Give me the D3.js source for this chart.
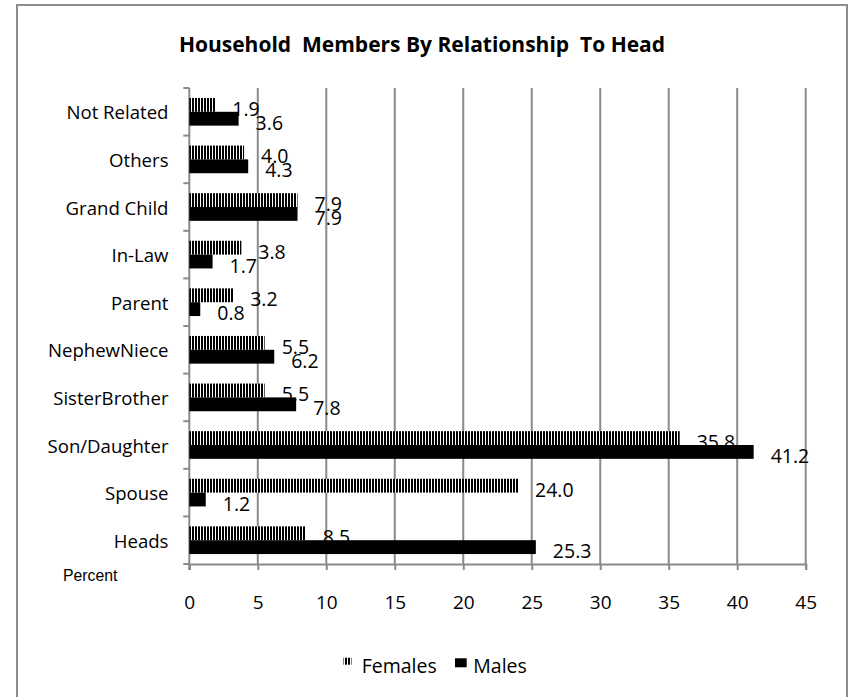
<!DOCTYPE html>
<html>
<head>
<meta charset="utf-8">
<script src="https://cdn.jsdelivr.net/npm/d3@7"></script>
<style>
  html, body { margin: 0; padding: 0; background: #fff; }
  svg { display: block; }
  text { white-space: pre; }
</style>
</head>
<body>
<script>
const categories = ["Heads", "Spouse", "Son/Daughter", "SisterBrother", "NephewNiece", "Parent", "In-Law", "Grand Child", "Others", "Not Related"];
const females = [8.5, 24.0, 35.8, 5.5, 5.5, 3.2, 3.8, 7.9, 4.0, 1.9];
const males   = [25.3, 1.2, 41.2, 7.8, 6.2, 0.8, 1.7, 7.9, 4.3, 3.6];
const seriesNames = ["Females", "Males"];
const xTicks = [0, 5, 10, 15, 20, 25, 30, 35, 40, 45];
const title = "Household  Members By Relationship  To Head";
const axisUnit = "Percent";

const W = 852, H = 697;
const plot = { left: 189.3, right: 805.7, top: 88, bottom: 564 };
const gridColor = "#8a8a8a";
const labelFont = "'Open Sans', sans-serif";

const svg = d3.select("body").append("svg").attr("width", W).attr("height", H);

const defs = svg.append("defs");
const pat = defs.append("pattern").attr("id", "vstripe")
  .attr("patternUnits", "userSpaceOnUse").attr("width", 3).attr("height", 4);
pat.append("rect").attr("width", 3).attr("height", 4).attr("fill", "#fff");
pat.append("rect").attr("width", 2).attr("height", 4).attr("fill", "#000");

// frame
svg.append("rect").attr("x", 17).attr("y", 5).attr("width", 830).attr("height", 710)
  .attr("fill", "#fff").attr("stroke", "#8c8c8c").attr("stroke-width", 2);

// title
svg.append("text").attr("x", 422).attr("y", 52).attr("text-anchor", "middle")
  .attr("font-family", labelFont).attr("font-weight", "bold").attr("font-size", 21)
  .attr("fill", "#000").text(title);

const x = d3.scaleLinear().domain([0, 45]).range([plot.left, plot.right]);
const y0 = d3.scaleBand().domain(categories).range([plot.bottom, plot.top]).padding(0);
const y1 = d3.scaleBand().domain(seriesNames).range([0, y0.bandwidth()]).paddingInner(0).paddingOuter(0.72);

// gridlines
svg.append("g").selectAll("line").data(xTicks.filter(d => d > 0)).join("line")
  .attr("x1", d => x(d)).attr("x2", d => x(d))
  .attr("y1", plot.top).attr("y2", plot.bottom)
  .attr("stroke", gridColor).attr("stroke-width", 2);

// bottom axis
const xAxis = svg.append("g").attr("transform", `translate(0,${plot.bottom})`)
  .call(d3.axisBottom(x).tickValues(xTicks).tickSize(6).tickPadding(26).tickFormat(d3.format("d")));
xAxis.select(".domain").attr("stroke", gridColor).attr("stroke-width", 2);
xAxis.selectAll(".tick line").attr("stroke", gridColor).attr("stroke-width", 2);
xAxis.selectAll(".tick text").attr("font-family", labelFont).attr("font-size", 19).attr("fill", "#000");

// left axis
svg.append("line").attr("x1", plot.left).attr("x2", plot.left).attr("y1", plot.top).attr("y2", plot.bottom + 6)
  .attr("stroke", gridColor).attr("stroke-width", 2);
svg.append("g").selectAll("line").data(categories.map(c => y0(c) + y0.bandwidth()).concat([plot.top])).join("line")
  .attr("x1", plot.left - 6).attr("x2", plot.left).attr("y1", d => d).attr("y2", d => d)
  .attr("stroke", gridColor).attr("stroke-width", 2);

svg.append("g").selectAll("text").data(categories).join("text")
  .attr("x", 168.5).attr("y", d => y0(d) + y0.bandwidth() / 2 + 7.5)
  .attr("text-anchor", "end").attr("font-family", labelFont).attr("font-size", 18.6).attr("fill", "#000")
  .text(d => d);

// bars
const rows = categories.map((c, i) => ({ cat: c, Females: females[i], Males: males[i] }));
const groups = svg.append("g").selectAll("g").data(rows).join("g")
  .attr("transform", d => `translate(0,${y0(d.cat)})`);
groups.selectAll("rect").data(d => seriesNames.map(s => ({ s, v: d[s] }))).join("rect")
  .attr("x", x(0)).attr("y", d => y1(d.s)).attr("width", d => x(d.v) - x(0)).attr("height", y1.bandwidth())
  .attr("fill", d => d.s === "Females" ? "url(#vstripe)" : "#000");
groups.selectAll("text").data(d => seriesNames.map(s => ({ s, v: d[s] }))).join("text")
  .attr("x", d => x(d.v) + 17).attr("y", d => y1(d.s) + y1.bandwidth() / 2 + 11)
  .attr("font-family", labelFont).attr("font-size", 19.5).attr("fill", "#000")
  .text(d => d.v.toFixed(1));

// Percent
svg.append("text").attr("x", 63).attr("y", 581).attr("font-family", "'Liberation Sans', Arial, sans-serif")
  .attr("font-size", 15.8).attr("fill", "#000").text(axisUnit);

// legend
const leg = svg.append("g");
leg.append("rect").attr("x", 343.5).attr("y", 657.7).attr("width", 8).attr("height", 7).attr("fill", "url(#vstripe)");
leg.append("text").attr("x", 361.7).attr("y", 672.7).attr("font-family", labelFont).attr("font-size", 19.5).attr("fill", "#000").text(seriesNames[0]);
leg.append("rect").attr("x", 455).attr("y", 658.3).attr("width", 11.7).attr("height", 9).attr("fill", "#000");
leg.append("text").attr("x", 473.3).attr("y", 672.7).attr("font-family", labelFont).attr("font-size", 19.5).attr("fill", "#000").text(seriesNames[1]);
</script>
</body>
</html>
